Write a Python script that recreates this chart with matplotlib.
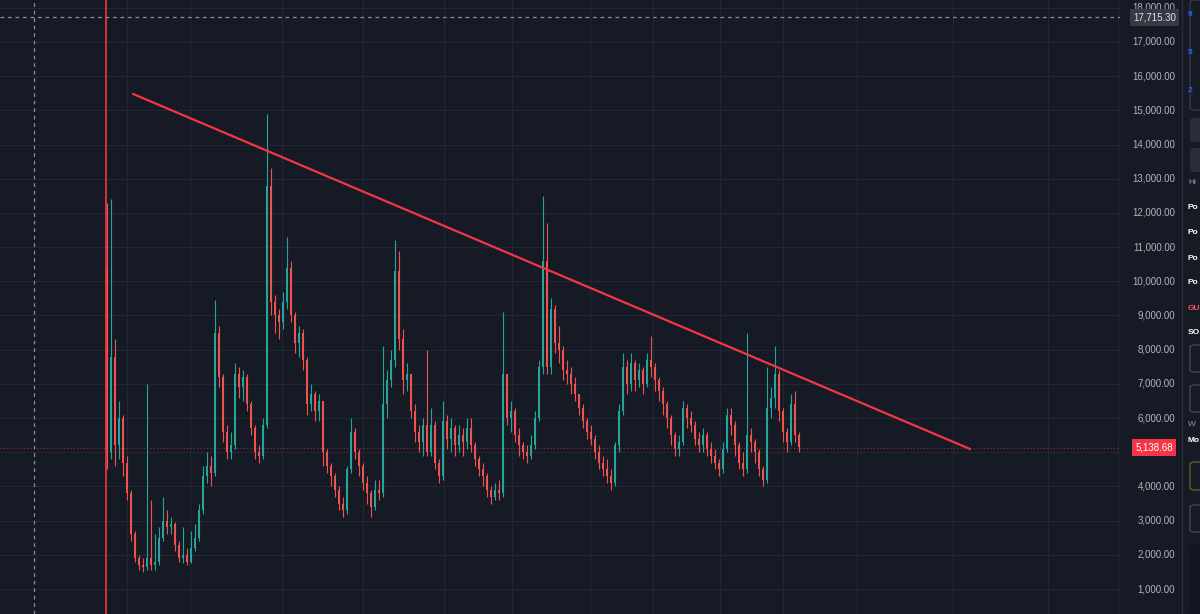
import matplotlib
matplotlib.use("Agg")
import matplotlib.pyplot as plt
import matplotlib.transforms as mtransforms
from matplotlib.patches import Rectangle, FancyBboxPatch

# ---- data (weekly candles) ----
first_open = 10400
closes = [
    5000, 7800, 5200, 6000, 4700, 3800, 2600, 1900, 1700, 1650,
    1900, 1700, 1800, 2500, 3000, 2800, 2900, 2300, 1900, 2000,
    1800, 2200, 2500, 3300, 4300, 4600, 4400, 8500, 7200, 5600,
    5000, 5200, 7300, 6900, 7200, 6400, 5700, 5000, 4900, 5800,
    12800, 9400, 9000, 8800, 9400, 10400, 9000, 8200, 8500, 7700,
    6400, 6700, 6200, 6500, 5000, 4600, 4300, 3900, 3500, 3300,
    4500, 5600, 5000, 4600, 4100, 3800, 3400, 3900, 3800, 6400,
    7100, 7700, 10300, 8300, 7100, 7300, 6200, 5600, 5300, 5800,
    5000, 5800, 4700, 4300, 5900, 5400, 5700, 5200, 5500, 5300,
    5700, 5200, 4800, 4500, 4300, 3900, 3700, 3900, 3800, 7300,
    6000, 6200, 5500, 5200, 5000, 4900, 5200, 6000, 7500, 10600,
    7500, 9200, 8200, 8000, 7400, 7300, 7000, 6700, 6300, 5900,
    5600, 5400, 5000, 4700, 4500, 4300, 4100, 5200, 6200, 7500,
    7000, 7600, 7100, 7400, 7000, 7700, 7500, 7100, 6800, 6400,
    6000, 5500, 5100, 5300, 6300, 6000, 5800, 5400, 5200, 5500,
    5100, 4900, 4700, 4500, 5100, 6100, 5800, 5200, 4700, 4500,
    5500, 5300, 5000, 4500, 4200, 6300, 6600, 7300, 6200, 5600,
    5300, 6400, 5500, 5139,
]
highs = [
    12300, 12400, 8300, 6500, 6100, 4900, 3900, 2700, 2000, 1900,
    7000, 3600, 2600, 2800, 3700, 3300, 3100, 2950, 2400, 2800,
    2200, 2700, 2900, 3500, 4600, 5000, 4900, 9450, 8700, 7300,
    5800, 5600, 7600, 7500, 7400, 7300, 6500, 5800, 5200, 6000,
    14900, 13300, 9600, 9200, 9700, 11300, 10600, 9100, 8700, 8600,
    7800, 7000, 6800, 6700, 6500, 5100, 4700, 4400, 4000, 3700,
    4600, 6000, 5700, 5100, 4700, 4300, 3900, 4200, 4200, 8100,
    7400, 8000, 11200, 10900, 8600, 7600, 7200, 6400, 5800, 6000,
    8000, 6300, 5900, 4800, 6500, 6100, 6000, 5800, 5800, 5700,
    6000, 6000, 5300, 4900, 4700, 4400, 4000, 4100, 4200, 9100,
    7300, 6500, 6300, 5700, 5300, 5200, 5500, 6200, 7700, 12500,
    11700, 9500, 9300, 8700, 8100, 7700, 7500, 7200, 6700, 6400,
    6000, 5800, 5500, 5200, 4900, 4800, 4500, 5300, 6400, 7900,
    7700, 7900, 7700, 7600, 7500, 7900, 8400, 7600, 7200, 6900,
    6500, 6100, 5600, 5500, 6500, 6400, 6200, 5900, 5600, 5700,
    5600, 5300, 5100, 4800, 5300, 6300, 6300, 5900, 5300, 5000,
    8500, 5700, 5400, 5100, 4600, 7500, 6900, 8100, 7400, 6300,
    5700, 6700, 6800, 5600,
]
lows = [
    4500, 4800, 4600, 4800, 4300, 3600, 2400, 1800, 1550, 1500,
    1550, 1550, 1550, 1700, 2400, 2600, 2600, 2100, 1800, 1750,
    1700, 1750, 2100, 2400, 3200, 4100, 4000, 4300, 6900, 5300,
    4800, 4800, 5100, 6600, 6500, 6200, 5500, 4800, 4700, 4800,
    5700, 9000, 8500, 8300, 8600, 9200, 8800, 7900, 7800, 7400,
    6100, 6200, 5900, 5900, 4600, 4400, 4000, 3700, 3300, 3100,
    3200, 4400, 4800, 4300, 3900, 3500, 3100, 3300, 3600, 3700,
    6000, 6900, 7500, 8000, 6700, 6800, 6000, 5300, 5000, 4900,
    4900, 4900, 4500, 4100, 4200, 5100, 5000, 4900, 5000, 4900,
    5100, 5000, 4600, 4300, 4000, 3700, 3500, 3600, 3600, 3700,
    5800, 5600, 5300, 4900, 4800, 4700, 4800, 5100, 5900, 7300,
    7300, 7300, 7900, 7600, 7100, 7000, 6700, 6500, 6100, 5700,
    5400, 5200, 4800, 4500, 4300, 4100, 3900, 4000, 5000, 6100,
    6700, 6800, 6800, 6900, 6700, 6900, 7200, 6800, 6500, 6100,
    5700, 5200, 4900, 4900, 5200, 5700, 5600, 5200, 5000, 5000,
    4900, 4700, 4500, 4300, 4400, 5000, 5500, 4900, 4500, 4300,
    4400, 5000, 4700, 4300, 4000, 4100, 6000, 6300, 5900, 5300,
    5000, 5200, 5300, 5000,
]
opens = [first_open] + closes[:-1]

price_ticks = [1000 * k for k in range(1, 19)]
last_price = 5138.68
crosshair_price = 17715.30

# trendline anchors (candle index, price)
trend_start = (6.5, 15480)
trend_end = (215.75, 5095)
marker_index = -0.25      # red vertical drawing
crosshair_index = -18.25  # dashed vertical crosshair

BG = "#161a25"
GRID = "#232734"
UP = "#26a69a"
DOWN = "#ef5350"
LINE_RED = "#f23645"
TEXT = "#b2b5be"

fig = plt.figure(figsize=(12, 6.14), dpi=100, facecolor=BG)
ax = fig.add_axes([0, 0, 1120 / 1200, 1])
ax.set_facecolor(BG)
ax.set_xlim(-26.75, 253.25)
ax.set_ylim(269, 18227)
for s in ax.spines.values():
    s.set_visible(False)
ax.set_xticks([])
ax.set_yticks([])

# grid
for p in price_ticks:
    ax.axhline(p, color=GRID, lw=0.8, zorder=0)
vgrid_px = [127, 190, 282, 363, 444, 512, 590, 653, 720, 783, 857, 953, 1048, 1118]
for px in vgrid_px:
    ax.axvline((px - 107) / 4, color=GRID, lw=0.8, zorder=0)

# candles
idx = list(range(len(closes)))
colors = [UP if c >= o else DOWN for o, c in zip(opens, closes)]
ax.vlines(idx, lows, highs, colors=colors, lw=0.8, zorder=2)
bottoms = [min(o, c) for o, c in zip(opens, closes)]
heights = [max(abs(c - o), 40) for o, c in zip(opens, closes)]
ax.bar(idx, heights, bottom=bottoms, width=0.55, color=colors, linewidth=0, zorder=3)

# drawings
ax.axvline(marker_index, color=LINE_RED, lw=1.2, zorder=4)
ax.axvline(crosshair_index, color="#8a8e99", lw=0.9, ls=(0, (3, 3)), zorder=4)
ax.axhline(crosshair_price, color="#8a8e99", lw=0.9, ls=(0, (3, 3)), zorder=4)
ax.axhline(last_price, color=LINE_RED, lw=0.8, ls=(0, (1, 2)), alpha=0.6, zorder=1)
ax.plot([trend_start[0], trend_end[0]], [trend_start[1], trend_end[1]],
        color=LINE_RED, lw=1.6, solid_capstyle="round", zorder=5)

# price scale on the right (the 5,000 label sits under the last-price tag)
tr = mtransforms.blended_transform_factory(fig.transFigure, ax.transData)
for p in price_ticks:
    if abs(p - last_price) < 300:
        continue
    fig.text(1175 / 1200, p, f"{p:,.2f}", transform=tr, ha="right", va="center",
             color=TEXT, fontsize=7, family="Liberation Sans", zorder=2)
fig.text(1176 / 1200, crosshair_price, f"{crosshair_price:,.2f}", transform=tr,
         ha="right", va="center", color="#e0e3eb", fontsize=7, family="Liberation Sans",
         zorder=3, bbox=dict(boxstyle="square,pad=0.35", fc="#363a45", ec="none"))
fig.text(1173 / 1200, last_price, f"{last_price:,.2f}", transform=tr,
         ha="right", va="center", color="white", fontsize=7, family="Liberation Sans",
         zorder=3, bbox=dict(boxstyle="square,pad=0.35", fc=LINE_RED, ec="none"))

# cut-off side panel
H = 614
fig.add_artist(Rectangle((1182 / 1200, 0), 18 / 1200, 1, transform=fig.transFigure,
                         fc=BG, ec="none", zorder=1))
fig.add_artist(plt.Line2D([1182 / 1200] * 2, [0, 1], transform=fig.transFigure,
                          color="#2a2e39", lw=1))
boxes = [(0, 110, "none", "#363a45"), (118, 142, "#2a2e39", "none"),
         (148, 172, "#2a2e39", "none"), (345, 372, "none", "#434651"),
         (385, 412, "none", "#434651"), (462, 490, "none", "#6b5a2a"),
         (505, 532, "none", "#434651"), (545, 614, "#131722", "none")]
for top, bot, fc, ec in boxes:
    fig.add_artist(FancyBboxPatch((1190 / 1200, 1 - bot / H), 20 / 1200, (bot - top) / H,
                                  boxstyle="round,pad=0,rounding_size=0.004",
                                  transform=fig.transFigure, fc=fc, ec=ec, lw=1))
side_texts = [("9", 14, "#2962ff", "bold"), ("5", 52, "#2962ff", "bold"),
              ("2", 90, "#2962ff", "bold"), ("Hi", 182, "#9598a1", "normal"),
              ("Po", 208, "white", "bold"), ("Po", 233, "white", "bold"),
              ("Po", 258, "white", "bold"), ("Po", 283, "white", "bold"),
              ("GU", 308, "#f7525f", "bold"), ("SO", 333, "white", "bold"),
              ("W", 425, "#9598a1", "normal"), ("Mo", 440, "white", "bold")]
for s, y, c, w in side_texts:
    fig.text(1188 / 1200, 1 - y / H, s, ha="left", va="center", color=c,
             fontsize=6, fontweight=w, family="Liberation Sans")

fig.savefig("out.png", dpi=100, facecolor=BG)
